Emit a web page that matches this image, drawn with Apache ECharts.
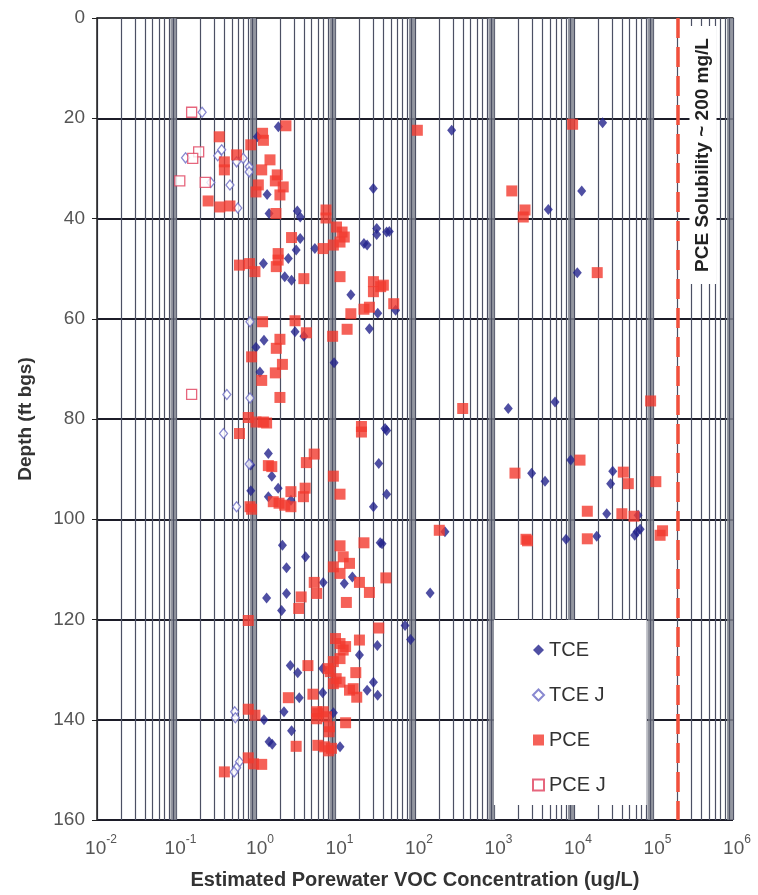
<!DOCTYPE html>
<html>
<head>
<meta charset="utf-8">
<script src="https://cdn.jsdelivr.net/npm/echarts@6/dist/echarts.min.js"></script>
<style>
  html, body { margin: 0; padding: 0; background: #fff; }
  #chart { width: 758px; height: 895px; }
</style>
</head>
<body>
<div id="chart"></div>
<script>
// values are [concentration ug/L, depth ft bgs]
const tce = [
  [1.91, 21.7], [289, 22.4], [22900, 20.9], [1.04, 23.7], [1.38, 35.2], [29.9, 34], [12500, 34.5],
  [4750, 38.2], [1.46, 39], [3.31, 38.5], [3.6, 39.7], [33, 42], [33, 43.2], [44, 42.7], [47.5, 42.6],
  [22.8, 45], [25, 45.3], [5.5, 46], [3.6, 44], [3.2, 46.3], [2.55, 48], [1.24, 49], [2.3, 51.6],
  [2.8, 52.3], [15.6, 55.2], [11000, 50.8], [57, 58.3], [34, 58.9], [3.1, 62.6], [4.0, 63.5],
  [26.7, 62], [1.26, 64.3], [1.0, 65.7], [9.6, 68.8], [1.12, 70.6], [1490, 77.9], [5770, 76.6],
  [42, 81.9], [44, 82.3], [9100, 88.2], [2930, 90.8], [4320, 92.4], [30700, 90.4], [28900, 92.9],
  [25800, 98.9], [64000, 99.2], [62000, 102.5], [58000, 103.2], [68000, 102], [238, 102.5],
  [7940, 104], [19300, 103.4], [1.43, 86.9], [1.58, 91.4], [35, 88.9], [1.9, 93.8], [0.86, 94.3],
  [1.43, 95.5], [2.75, 96.2], [30, 97.5], [44, 95], [36.5, 104.7], [2.15, 105.2], [4.2, 107.5],
  [2.42, 109.7], [38.5, 104.9], [16.3, 111.5], [12.9, 112.8], [7.0, 112.6], [2.42, 114.8],
  [1.36, 115.7], [2.1, 118.2], [155, 114.7], [75, 121.2], [88, 124], [33.6, 125.2], [20, 127.1],
  [2.7, 129.2], [3.35, 130.6], [6.9, 129.8], [30, 132.5], [3.5, 135.6], [6.9, 134.6], [25, 134.1],
  [33.9, 135.1], [9.4, 138.6], [1.26, 140], [2.25, 138.4], [2.8, 142.2], [1.46, 144.4],
  [1.6, 144.9], [11.4, 145.4], [0.86, 89.2]
];

const tceJ = [
  [0.21, 18.8], [0.37, 26.3], [0.33, 27.5], [0.13, 27.9], [0.57, 28.7], [0.69, 28], [0.82, 29.7],
  [0.82, 30.7], [0.27, 32.8], [0.47, 33.3], [0.59, 37.9], [0.84, 60.6], [0.43, 75.1], [0.84, 75.8],
  [0.39, 82.9], [0.82, 89], [0.57, 97.5], [0.54, 138.4], [0.55, 139.6], [0.62, 148.4],
  [0.57, 149.6], [0.53, 150.4]
];

const pce = [
  [2.38, 21.5], [107, 22.4], [9600, 21.2], [0.345, 23.7], [1.21, 23], [1.24, 24.4], [0.86, 25.3],
  [0.57, 27.3], [0.40, 28.7], [0.40, 30.3], [1.5, 28.3], [1.18, 30.3], [1.85, 31.3], [1.75, 32.5],
  [2.2, 33.7], [2.0, 35.3], [1.07, 33.3], [1.0, 34.7], [0.25, 36.5], [0.35, 37.7], [0.47, 37.5],
  [1.78, 39], [7.6, 38.3], [7.6, 39.9], [10.3, 41.7], [12.1, 42.7], [12.9, 43.7], [11.4, 44.7],
  [9.4, 45.3], [7.0, 46], [2.8, 43.8], [1.9, 47], [1.9, 48.3], [1.8, 49.6], [0.62, 49.3],
  [0.83, 49], [0.97, 50.6], [4.0, 52], [11.4, 51.6], [30, 52.6], [30, 54.6], [37, 53.6],
  [40, 53.3], [54, 57], [1650, 34.5], [2420, 38.3], [2300, 39.7], [19600, 50.8], [1.21, 60.6],
  [3.1, 60.4], [4.3, 62.8], [9.2, 63.5], [14, 62.1], [15.6, 59], [22.8, 58.1], [26.7, 57.7],
  [2.0, 64.1], [1.8, 65.9], [0.88, 67.6], [2.15, 69.1], [1.75, 70.8], [1.18, 72.3], [2.0, 75.7],
  [0.8, 79.7], [1.0, 80.6], [1.24, 80.6], [1.36, 80.8], [0.62, 82.9], [21.2, 81.5], [21.2, 82.6],
  [398, 77.9], [92000, 76.4], [11900, 88.2], [1810, 90.8], [41700, 90.6], [48200, 92.9],
  [107000, 92.5], [14700, 98.4], [40000, 98.9], [56800, 99.4], [130000, 102.3], [121000, 103.2],
  [202, 102.2], [2490, 104], [2600, 104.3], [14700, 103.9], [1.43, 89.3], [1.58, 89.5],
  [5.4, 87], [4.3, 88.7], [9.4, 91.4], [11.4, 95], [2.75, 94.5], [4.15, 93.8], [3.95, 95.5],
  [1.65, 96.5], [1.95, 96.8], [2.3, 97.2], [2.75, 97.5], [0.84, 97.5], [0.88, 98], [11.4, 105.3],
  [22.8, 104.7], [12.5, 107.5], [15, 108.8], [9.4, 109.5], [11.4, 110.8], [20, 112.6],
  [26.7, 114.6], [43, 111.7], [5.4, 112.6], [5.8, 114.8], [3.7, 115.5], [3.45, 117.8],
  [13.7, 116.6], [0.8, 120.2], [35, 121.7], [10, 123.8], [11.4, 124.8], [13.4, 125.4],
  [20, 124.1], [12.5, 126.1], [11.4, 127.8], [4.5, 129.2], [9.4, 128.4], [8.1, 129.8],
  [8.6, 130.4], [10.2, 131.8], [18, 130.6], [9.4, 132.8], [11.4, 132.5], [15, 134.1],
  [18.5, 135.5], [16.7, 133.8], [2.55, 135.6], [5.2, 134.9], [5.8, 138.4], [7.0, 138.4],
  [6.0, 138.8], [5.8, 139.8], [7.7, 139.4], [13.4, 140.6], [0.8, 137.9], [0.97, 139.1],
  [8.4, 141.4], [8.3, 142.4], [3.2, 145.3], [6.0, 145.1], [7.3, 145.4], [8.9, 145.7],
  [8.2, 146.2], [0.8, 147.6], [0.93, 148.8], [1.18, 148.9], [0.4, 150.4]
];

const pceJ = [
  [0.155, 18.8], [0.19, 26.7], [0.16, 28], [0.11, 32.5], [0.23, 32.8], [0.155, 75.1]
];

const pceSolubility = 200000; // 200 mg/L in ug/L
const depthTicks = [0, 20, 40, 60, 80, 100, 120, 140, 160];

// minor log grid lines (2..9 per decade) and the darker bands next to each decade line
const minorLines = [];
const decadeBands = [];
for (let k = -2; k <= 5; k++) {
  for (let m = 2; m <= 9; m++) minorLines.push({ xAxis: m * Math.pow(10, k) });
}
for (let k = -1; k <= 6; k++) {
  decadeBands.push([{ xAxis: 0.84 * Math.pow(10, k) }, { xAxis: Math.pow(10, k) }]);
}

const font = 'Liberation Sans, Arial, sans-serif';
const gridGrey = '#4c5064';
const chart = echarts.init(document.getElementById('chart'));

chart.setOption({
  backgroundColor: '#fff',
  animation: false,
  grid: { left: 97, right: 25, top: 18, bottom: 75 },
  legend: {
    data: ['TCE', 'TCE J', 'PCE', 'PCE J'],
    orient: 'vertical',
    left: 494,
    top: 620,
    backgroundColor: '#fff',
    padding: [20, 41, 10, 38],
    itemGap: 25,
    itemWidth: 11,
    itemHeight: 11,
    textStyle: { fontFamily: font, fontSize: 20, color: '#333' },
    z: 10
  },
  xAxis: {
    type: 'log',
    logBase: 10,
    min: 0.01,
    max: 1e6,
    splitNumber: 8,
    name: 'Estimated Porewater VOC Concentration (ug/L)',
    nameLocation: 'middle',
    nameGap: 50,
    nameTextStyle: { fontFamily: font, fontSize: 20, fontWeight: 'bold', color: '#333' },
    axisLine: { lineStyle: { color: '#222', width: 1.5 } },
    axisTick: { show: false },
    splitLine: { show: true, lineStyle: { color: gridGrey, width: 1.2 } },
    axisLabel: {
      margin: 14,
      formatter: v => '{p|}{b|10}{s|' + Math.round(Math.log10(v)) + '}',
      rich: {
        p: { width: 8 },
        b: { fontFamily: font, fontSize: 19, color: '#555', lineHeight: 24, verticalAlign: 'bottom' },
        s: { fontFamily: font, fontSize: 12, color: '#555', lineHeight: 24, verticalAlign: 'top' }
      }
    }
  },
  yAxis: {
    type: 'value',
    inverse: true,
    min: 0,
    max: 160,
    interval: 20,
    name: 'Depth (ft bgs)',
    nameLocation: 'middle',
    nameGap: 62,
    nameTextStyle: { fontFamily: font, fontSize: 19, fontWeight: 'bold', color: '#333' },
    axisLine: { show: true, lineStyle: { color: '#222', width: 1.5 } },
    axisTick: { show: true, length: 5, lineStyle: { color: '#222' } },
    axisLabel: {
      margin: 12,
      fontFamily: font, fontSize: 19, color: '#555',
      formatter: v => depthTicks.includes(v) ? String(v) : ''
    },
    splitLine: {
      show: true,
      lineStyle: { color: ['#9a9cab', '#1c1c28', '#1c1c28', '#1c1c28', '#1c1c28', '#1c1c28', '#1c1c28', '#1c1c28', '#1c1c28'], width: 1.8 }
    }
  },
  graphic: [{
    type: 'text',
    x: 703,
    y: 155,
    rotation: Math.PI / 2,
    z: 20,
    style: {
      text: 'PCE Solubility ~ 200 mg/L',
      font: 'bold 19px ' + font,
      fill: '#222',
      align: 'center',
      verticalAlign: 'middle',
      backgroundColor: '#fff',
      padding: [4, 12]
    }
  }],
  series: [
    {
      name: 'grid',
      type: 'scatter',
      data: [],
      silent: true,
      z: 1,
      markLine: {
        silent: true,
        symbol: 'none',
        label: { show: false },
        lineStyle: { color: gridGrey, width: 1.2, type: 'solid' },
        data: minorLines
      },
      markArea: {
        silent: true,
        itemStyle: { color: '#80848f', opacity: 0.85 },
        data: decadeBands
      }
    },
    {
      name: 'solubility',
      type: 'scatter',
      data: [],
      silent: true,
      z: 4,
      markLine: {
        silent: true,
        symbol: 'none',
        label: { show: false },
        lineStyle: { color: '#f2503c', width: 3.5, type: [20, 9] },
        data: [{ xAxis: pceSolubility }]
      }
    },
    {
      name: 'TCE', type: 'scatter', data: tce, z: 5,
      symbol: 'diamond', symbolSize: [9, 11],
      itemStyle: { color: '#23238c' }
    },
    {
      name: 'TCE J', type: 'scatter', data: tceJ, z: 5,
      symbol: 'diamond', symbolSize: [8, 10],
      itemStyle: { color: '#fff', borderColor: '#6a6ac4', borderWidth: 1.3 }
    },
    {
      name: 'PCE', type: 'scatter', data: pce, z: 6,
      symbol: 'rect', symbolSize: 11,
      itemStyle: { color: '#f23a2e' }
    },
    {
      name: 'PCE J', type: 'scatter', data: pceJ, z: 6,
      symbol: 'rect', symbolSize: 10,
      itemStyle: { color: '#fff', borderColor: '#e0405c', borderWidth: 1.3 }
    }
  ]
});
</script>
</body>
</html>
